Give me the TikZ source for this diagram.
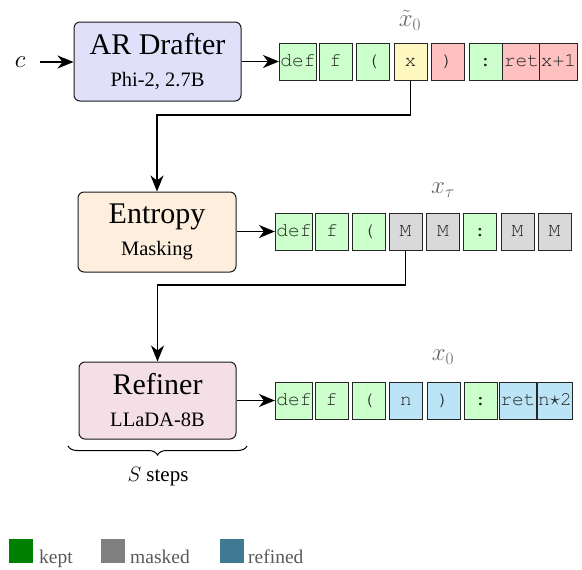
\documentclass[tikz,border=0pt]{standalone}
\usepackage{fontspec}
\setmainfont{Liberation Serif}
\setmonofont{TeX Gyre Cursor}
\usetikzlibrary{arrows.meta,decorations.pathreplacing,calc}
\definecolor{drafterfill}{HTML}{E0E0FA}
\definecolor{entropyfill}{HTML}{FDEEDE}
\definecolor{refinerfill}{HTML}{F5DFE7}
\definecolor{tokgreen}{HTML}{CCFFCC}
\definecolor{tokyellow}{HTML}{FFF8C0}
\definecolor{tokred}{HTML}{FFC0C0}
\definecolor{tokgray}{HTML}{D9D9D9}
\definecolor{tokblue}{HTML}{BCE4F7}
\definecolor{keptc}{HTML}{008000}
\definecolor{maskedc}{HTML}{808080}
\definecolor{refinedc}{HTML}{3F7A94}
\tikzset{
  block/.style={draw=black!90, line width=1pt, rounded corners=6pt, align=center, inner sep=0pt,
    font=\fontsize{30}{32}\selectfont},
  tok/.style={draw=black!85, line width=1pt, minimum width=33pt, minimum height=37pt, inner sep=1pt,
    font=\ttfamily\fontsize{19.5}{20}\selectfont, text=black!85, text height=12pt, text depth=3pt},
  conn/.style={line width=1.4pt, -{Stealth[length=16pt,width=13pt,inset=5pt]}},
  link/.style={line width=1.2pt},
  seqlabel/.style={text=black!60, font=\fontsize{24}{26}\selectfont},
  legsq/.style={minimum size=24pt, inner sep=0pt},
  legtxt/.style={text=black!65, font=\fontsize{19.5}{22}\selectfont, inner sep=0pt, anchor=base west},
}
\begin{document}
\begin{tikzpicture}[x=1pt,y=-1pt]
\useasboundingbox (0,0) rectangle (582,570);

% blocks
\node[block, fill=drafterfill, minimum width=167pt, minimum height=79pt] (drafter) at (157.5,61.5)
  {AR Drafter\\\fontsize{20.5}{32}\selectfont Phi-2, 2.7B};
\node[block, fill=entropyfill, minimum width=158pt, minimum height=80pt] (entropy) at (157,232)
  {Entropy\\\fontsize{20.5}{32}\selectfont Masking};
\node[block, fill=refinerfill, minimum width=157pt, minimum height=77pt] (refiner) at (157.5,400.5)
  {Refiner\\\fontsize{20.5}{32}\selectfont LLaDA-8B};

\node[inner sep=0pt, font=\fontsize{31}{32}\selectfont] (c) at (20,62) {$c$};

% row 1 (draft)
\node[tok, fill=tokgreen]  (a1) at (298,61.5)   {def};
\node[tok, fill=tokgreen]  (a2) at (335.5,61.5) {f};
\node[tok, fill=tokgreen]  (a3) at (373,61.5)   {(};
\node[tok, fill=tokyellow] (a4) at (410.5,61.5) {x};
\node[tok, fill=tokred]    (a5) at (447.5,61.5) {)};
\node[tok, fill=tokgreen]  (a6) at (485.5,61.5) {:};
\node[tok, fill=tokred]    (a7) at (521.5,61.5) {ret};
\node[tok, fill=tokred]    (a8) at (558.5,61.5) {x+1};
\node[seqlabel] (l1) at (410,20) {$\tilde{x}_0$};

% row 2 (masked)
\node[tok, fill=tokgreen] (b1) at (294,231.5)   {def};
\node[tok, fill=tokgreen] (b2) at (332,231.5)   {f};
\node[tok, fill=tokgreen] (b3) at (369,231.5)   {(};
\node[tok, fill=tokgray]  (b4) at (405.5,231.5) {M};
\node[tok, fill=tokgray]  (b5) at (443,231.5)   {M};
\node[tok, fill=tokgreen] (b6) at (480,231.5)   {:};
\node[tok, fill=tokgray]  (b7) at (517.5,231.5) {M};
\node[tok, fill=tokgray]  (b8) at (554.5,231.5) {M};
\node[seqlabel] (l2) at (443,190) {$x_\tau$};

% row 3 (refined)
\node[tok, fill=tokgreen] (r1) at (294,400.5)   {def};
\node[tok, fill=tokgreen] (r2) at (331.5,400.5) {f};
\node[tok, fill=tokgreen] (r3) at (368.5,400.5) {(};
\node[tok, fill=tokblue]  (r4) at (406,400.5)   {n};
\node[tok, fill=tokblue]  (r5) at (443.5,400.5) {)};
\node[tok, fill=tokgreen] (r6) at (480.5,400.5) {:};
\node[tok, fill=tokblue]  (r7) at (518,400.5)   {ret};
\node[tok, fill=tokblue]  (r8) at (555,400.5)   {n\(\star\)2};
\node[seqlabel] (l3) at (443,357) {$x_0$};

% connectors
\coordinate (cstart) at (40,62);
\draw[conn] (cstart) -- (drafter.west |- cstart);
\draw[conn] (drafter.east |- a1.west) -- (a1.west);
\draw[conn] (entropy.east |- b1.west) -- (b1.west);
\draw[conn] (refiner.east |- r1.west) -- (r1.west);

\coordinate (bend1) at (410.5,115);
\draw[link] (a4.south) -- (bend1);
\draw[conn] (bend1) -| (entropy.north);
\coordinate (bend2) at (405.5,285);
\draw[link] (b4.south) -- (bend2);
\draw[conn] (bend2) -| (refiner.north);

% brace
\coordinate (brL) at (68,446);
\coordinate (brR) at (247,446);
\draw[decorate, decoration={brace, mirror, amplitude=9pt}, line width=1pt] (brL) -- (brR);
\node[font=\fontsize{21}{24}\selectfont] (steps) at (158,477) {$S$ steps};

% legend
\node[legsq, fill=keptc] (lk) at (21,551) {};
\node[legtxt] (tk) at (39,563) {kept};
\node[legsq, fill=maskedc] (lm) at (112.5,551) {};
\node[legtxt] (tm) at (130,563) {masked};
\node[legsq, fill=refinedc] (lr) at (231.5,551) {};
\node[legtxt] (tr) at (248,563) {refined};
\end{tikzpicture}
\end{document}
